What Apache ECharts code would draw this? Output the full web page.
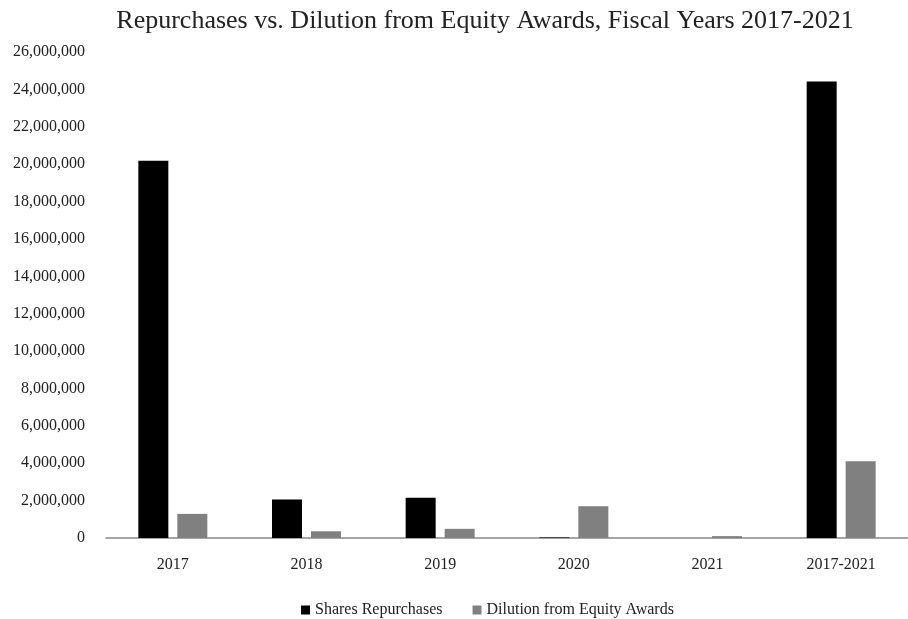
<!DOCTYPE html>
<html><head><meta charset="utf-8">
<script src="https://cdn.jsdelivr.net/npm/echarts@6/dist/echarts.min.js"></script>
<style>html,body{margin:0;padding:0;background:#fff}#c{width:908px;height:619px}</style>
</head><body><div id="c"></div>
<script>
const categories = ['2017','2018','2019','2020','2021','2017-2021'];
const repurchases = [20180000, 2060000, 2150000, 30000, 0, 24420000];
const dilution = [1290000, 360000, 490000, 1700000, 100000, 4100000];
const yTicks = {min: 0, max: 26000000, interval: 2000000};
const font = '"Liberation Serif", "DejaVu Serif", serif';
const chart = echarts.init(document.getElementById('c'));
chart.setOption({
  backgroundColor: '#fff',
  animation: false,
  title: {text: 'Repurchases vs. Dilution from Equity Awards, Fiscal Years 2017-2021',
    left: 480, textAlign: 'center', top: 3,
    textStyle: {fontFamily: font, fontSize: 26, fontWeight: 'normal', color: '#222'}},
  grid: {left: 106, right: -7, top: 52, bottom: 81},
  legend: {top: 597, left: 296, itemWidth: 9, itemHeight: 9, itemGap: 30, icon: 'rect',
    textStyle: {fontFamily: font, fontSize: 16, color: '#222'},
    data: ['Shares Repurchases', 'Dilution from Equity Awards']},
  xAxis: {type: 'category', data: categories,
    axisLine: {lineStyle: {color: '#888', width: 1.5}}, axisTick: {show: false},
    axisLabel: {fontFamily: font, fontSize: 16, color: '#222', margin: 19}},
  yAxis: {type: 'value', min: yTicks.min, max: yTicks.max, interval: yTicks.interval,
    splitLine: {show: false}, axisLine: {show: false}, axisTick: {show: false},
    axisLabel: {fontFamily: font, fontSize: 16, color: '#222', margin: 21,
      formatter: v => v.toLocaleString('en-US')}},
  series: [
    {name: 'Shares Repurchases', type: 'bar', data: repurchases, barWidth: 30, barGap: '30%',
      itemStyle: {color: '#000'}},
    {name: 'Dilution from Equity Awards', type: 'bar', data: dilution, barWidth: 30,
      itemStyle: {color: '#808080'}}
  ]
});
</script></body></html>
